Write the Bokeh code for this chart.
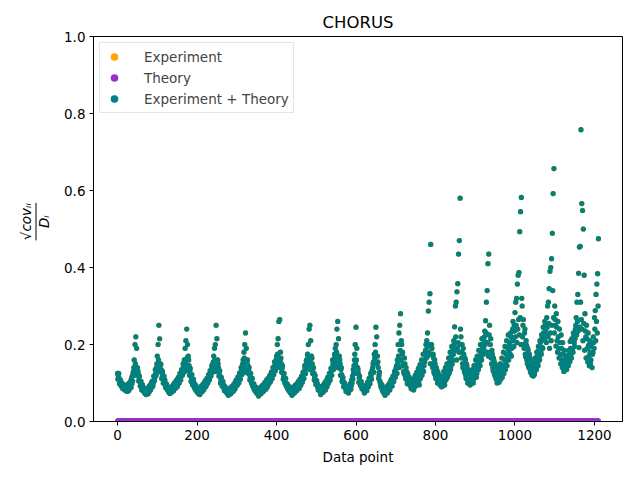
from bokeh.plotting import figure
from bokeh.layouts import row
from bokeh.models import (Range1d, Legend, LegendItem, Label,
                          FixedTicker, PrintfTickFormatter, ColumnDataSource)
from bokeh.embed import file_html
from bokeh.resources import INLINE

# sqrt(cov_ii)/D_i for Experiment + Theory, even data points 0..326
ratio_a = [
    0.125, 0.118, 0.112, 0.100, 0.104, 0.095, 0.090, 0.093, 0.085, 0.082,
    0.088, 0.080, 0.078, 0.083, 0.080, 0.086, 0.092, 0.088, 0.098, 0.105,
    0.130, 0.160, 0.200, 0.220, 0.190,
    0.140, 0.125, 0.115, 0.105, 0.098, 0.092, 0.086, 0.082, 0.078, 0.075,
    0.072, 0.070, 0.073, 0.076, 0.080, 0.078, 0.085, 0.090, 0.088, 0.096,
    0.100, 0.108, 0.115, 0.125, 0.140, 0.170, 0.200, 0.250, 0.215,
    0.150, 0.135, 0.125, 0.118, 0.110, 0.102, 0.095, 0.090, 0.085, 0.082,
    0.078, 0.075, 0.073, 0.076, 0.080, 0.078, 0.083, 0.088, 0.085, 0.092,
    0.095, 0.090, 0.098, 0.102, 0.108, 0.112, 0.118, 0.125, 0.135, 0.145,
    0.160, 0.190, 0.210, 0.240, 0.200, 0.170,
    0.145, 0.130, 0.120, 0.112, 0.105, 0.098, 0.092, 0.088, 0.084, 0.080,
    0.077, 0.075, 0.072, 0.074, 0.078, 0.076, 0.080, 0.084, 0.082, 0.088,
    0.092, 0.090, 0.096, 0.100, 0.105, 0.110, 0.115, 0.122, 0.130, 0.140,
    0.150, 0.170, 0.190, 0.200, 0.250, 0.215, 0.160,
    0.140, 0.128, 0.118, 0.110, 0.102, 0.095, 0.090, 0.086, 0.082, 0.079,
    0.076, 0.073, 0.071, 0.074, 0.077, 0.075, 0.079, 0.083, 0.081, 0.086,
    0.090, 0.088, 0.094, 0.098, 0.102, 0.108, 0.114, 0.120, 0.128, 0.136,
    0.145, 0.160, 0.180, 0.200, 0.230, 0.190, 0.150,
]

# even data points 328..716
ratio_b = [
    0.145, 0.132, 0.122, 0.114, 0.106, 0.099, 0.093, 0.088, 0.084, 0.080,
    0.077, 0.074, 0.072, 0.070, 0.073, 0.076, 0.074, 0.078, 0.082, 0.080,
    0.085, 0.089, 0.087, 0.092, 0.096, 0.094, 0.100, 0.104, 0.108, 0.112,
    0.118, 0.124, 0.130, 0.138, 0.146, 0.155, 0.170, 0.200, 0.215, 0.260,
    0.265, 0.180,
    0.150, 0.138, 0.126, 0.116, 0.108, 0.101, 0.095, 0.090, 0.086, 0.082,
    0.079, 0.076, 0.074, 0.072, 0.075, 0.078, 0.076, 0.080, 0.084, 0.082,
    0.088, 0.092, 0.090, 0.096, 0.100, 0.105, 0.110, 0.116, 0.122, 0.130,
    0.138, 0.148, 0.160, 0.175, 0.200, 0.240, 0.250, 0.210, 0.170,
    0.150, 0.138, 0.126, 0.116, 0.108, 0.100, 0.094, 0.089, 0.085, 0.081,
    0.078, 0.075, 0.078, 0.082, 0.080, 0.085, 0.090, 0.088, 0.094, 0.098,
    0.104, 0.110, 0.116, 0.124, 0.132, 0.140, 0.150, 0.160, 0.175, 0.190,
    0.200, 0.240, 0.260, 0.215, 0.170,
    0.150, 0.135, 0.122, 0.112, 0.104, 0.097, 0.091, 0.086, 0.082, 0.079,
    0.076, 0.079, 0.083, 0.088, 0.093, 0.100, 0.110, 0.125, 0.160, 0.200,
    0.245,
    0.190, 0.140, 0.125, 0.114, 0.105, 0.098, 0.092, 0.087, 0.083, 0.080,
    0.078, 0.082, 0.086, 0.090, 0.095, 0.100, 0.106, 0.113, 0.120, 0.130,
    0.140, 0.155, 0.175, 0.200, 0.245, 0.220,
    0.170, 0.140, 0.120, 0.105, 0.095, 0.088, 0.082, 0.078, 0.075, 0.073,
    0.076, 0.080, 0.078, 0.084, 0.088, 0.086, 0.092, 0.096, 0.100, 0.105,
    0.110, 0.118, 0.126, 0.135, 0.145, 0.160, 0.200, 0.230, 0.250, 0.280,
    0.210, 0.175,
]

# even data points 718..1210
ratio_c = [
    0.150, 0.130, 0.165, 0.118, 0.140, 0.108, 0.125, 0.100, 0.115, 0.094,
    0.108, 0.090, 0.100, 0.095, 0.088, 0.104, 0.092, 0.110, 0.098, 0.118,
    0.105, 0.125, 0.112, 0.135, 0.120, 0.145, 0.130, 0.160, 0.175, 0.200,
    0.210, 0.230, 0.287, 0.310, 0.332, 0.460,
    0.200, 0.150, 0.175, 0.130, 0.160, 0.118, 0.140, 0.110, 0.128, 0.100,
    0.120, 0.095, 0.112, 0.105, 0.092, 0.118, 0.100, 0.125, 0.108, 0.135,
    0.115, 0.145, 0.125, 0.155, 0.135, 0.170, 0.150, 0.190, 0.210, 0.246,
    0.300, 0.310, 0.337, 0.358, 0.435, 0.470,
    0.580, 0.220, 0.180, 0.150, 0.190, 0.135, 0.165, 0.120, 0.150, 0.110,
    0.135, 0.102, 0.125, 0.098, 0.115, 0.105, 0.122, 0.110, 0.130, 0.118,
    0.140, 0.125, 0.150, 0.135, 0.165, 0.145, 0.180, 0.160, 0.195, 0.175,
    0.210, 0.235, 0.262, 0.310, 0.340, 0.410, 0.435, 0.250,
    0.200, 0.165, 0.185, 0.140, 0.165, 0.125, 0.150, 0.115, 0.140, 0.108,
    0.130, 0.102, 0.120, 0.110, 0.135, 0.115, 0.145, 0.125, 0.160, 0.135,
    0.175, 0.145, 0.190, 0.160, 0.205, 0.175, 0.220, 0.190, 0.240, 0.210,
    0.250, 0.283, 0.310, 0.320, 0.357, 0.380, 0.387, 0.493, 0.545, 0.582,
    0.300, 0.250, 0.200, 0.230, 0.175, 0.210, 0.160, 0.190, 0.145, 0.175,
    0.135, 0.160, 0.125, 0.150, 0.118, 0.140, 0.130, 0.155, 0.135, 0.170,
    0.145, 0.185, 0.160, 0.205, 0.175, 0.215, 0.190, 0.230, 0.212, 0.250,
    0.225, 0.270, 0.300, 0.310, 0.345, 0.390, 0.400, 0.423, 0.489,
    0.592, 0.657, 0.300, 0.250, 0.280, 0.210, 0.260, 0.190, 0.240, 0.175,
    0.225, 0.160, 0.205, 0.150, 0.185, 0.140, 0.170, 0.135, 0.160, 0.145,
    0.175, 0.155, 0.190, 0.165, 0.212, 0.180, 0.222, 0.195, 0.240, 0.270,
    0.310, 0.330, 0.385, 0.453, 0.455,
    0.758, 0.566, 0.548, 0.500, 0.380, 0.280, 0.220, 0.250, 0.190, 0.230,
    0.170, 0.210, 0.150, 0.195, 0.140, 0.180, 0.205, 0.270, 0.288, 0.330,
    0.357, 0.384, 0.475,
]

# odd data points 1..325
ratio_a_odd = [
    0.110, 0.125, 0.098, 0.108, 0.092, 0.100, 0.086, 0.096, 0.090, 0.094,
    0.084, 0.090, 0.095, 0.086, 0.100, 0.092, 0.105, 0.112, 0.118, 0.125,
    0.140, 0.120, 0.150, 0.135,
    0.125, 0.132, 0.105, 0.118, 0.092, 0.104, 0.082, 0.095, 0.088, 0.080,
    0.085, 0.078, 0.082, 0.086, 0.072, 0.090, 0.094, 0.082, 0.100, 0.104,
    0.092, 0.118, 0.106, 0.135, 0.120, 0.150, 0.130, 0.160, 0.145,
    0.130, 0.148, 0.112, 0.130, 0.100, 0.118, 0.108, 0.088, 0.098, 0.092,
    0.086, 0.082, 0.088, 0.084, 0.076, 0.090, 0.094, 0.080, 0.100, 0.086,
    0.104, 0.108, 0.094, 0.115, 0.100, 0.125, 0.108, 0.135, 0.120, 0.150,
    0.128, 0.140, 0.155, 0.132, 0.165, 0.145,
    0.160, 0.120, 0.138, 0.104, 0.122, 0.095, 0.110, 0.100, 0.085, 0.094,
    0.088, 0.082, 0.086, 0.080, 0.070, 0.088, 0.092, 0.078, 0.097, 0.084,
    0.102, 0.106, 0.094, 0.112, 0.100, 0.122, 0.108, 0.132, 0.118, 0.145,
    0.128, 0.155, 0.140, 0.160, 0.130, 0.148, 0.138,
    0.150, 0.118, 0.132, 0.100, 0.115, 0.092, 0.104, 0.095, 0.080, 0.090,
    0.084, 0.080, 0.084, 0.068, 0.082, 0.086, 0.072, 0.090, 0.092, 0.078,
    0.098, 0.084, 0.104, 0.108, 0.094, 0.116, 0.100, 0.126, 0.110, 0.140,
    0.122, 0.150, 0.135, 0.165, 0.128, 0.145, 0.138,
]

# odd data points 327..715
ratio_b_odd = [
    0.160, 0.125, 0.140, 0.108, 0.125, 0.100, 0.112, 0.092, 0.098, 0.085,
    0.090, 0.082, 0.086, 0.080, 0.066, 0.084, 0.088, 0.072, 0.092, 0.094,
    0.078, 0.098, 0.102, 0.084, 0.108, 0.090, 0.112, 0.098, 0.120, 0.104,
    0.128, 0.112, 0.140, 0.122, 0.155, 0.132, 0.160, 0.145, 0.175, 0.150,
    0.140, 0.160,
    0.165, 0.128, 0.145, 0.110, 0.125, 0.100, 0.112, 0.092, 0.098, 0.088,
    0.092, 0.085, 0.088, 0.080, 0.068, 0.086, 0.090, 0.074, 0.094, 0.096,
    0.080, 0.100, 0.104, 0.086, 0.110, 0.094, 0.118, 0.102, 0.128, 0.112,
    0.145, 0.125, 0.158, 0.138, 0.170, 0.150, 0.135, 0.160, 0.145,
    0.165, 0.125, 0.140, 0.108, 0.120, 0.096, 0.106, 0.098, 0.082, 0.092,
    0.086, 0.070, 0.088, 0.092, 0.076, 0.096, 0.100, 0.082, 0.106, 0.090,
    0.115, 0.100, 0.125, 0.108, 0.138, 0.120, 0.160, 0.135, 0.145, 0.170,
    0.155, 0.180, 0.140, 0.165, 0.150,
    0.160, 0.120, 0.140, 0.104, 0.115, 0.090, 0.100, 0.094, 0.078, 0.088,
    0.090, 0.074, 0.092, 0.098, 0.084, 0.108, 0.118, 0.135, 0.145, 0.175,
    0.150,
    0.160, 0.125, 0.135, 0.102, 0.118, 0.094, 0.104, 0.085, 0.094, 0.088,
    0.074, 0.090, 0.094, 0.080, 0.102, 0.090, 0.112, 0.098, 0.125, 0.110,
    0.135, 0.150, 0.128, 0.165, 0.180, 0.150,
    0.150, 0.155, 0.112, 0.128, 0.100, 0.090, 0.096, 0.084, 0.088, 0.082,
    0.068, 0.086, 0.090, 0.074, 0.094, 0.098, 0.082, 0.104, 0.110, 0.092,
    0.118, 0.104, 0.130, 0.115, 0.140, 0.125, 0.150, 0.170, 0.140, 0.185,
    0.160, 0.200,
]

# odd data points 717..1209
ratio_c_odd = [
    0.180, 0.145, 0.125, 0.150, 0.112, 0.130, 0.098, 0.118, 0.105, 0.100,
    0.092, 0.085, 0.096, 0.110, 0.082, 0.098, 0.120, 0.104, 0.128, 0.112,
    0.138, 0.095, 0.148, 0.118, 0.160, 0.135, 0.175, 0.145, 0.155, 0.185,
    0.165, 0.195, 0.170, 0.180, 0.200, 0.150,
    0.175, 0.190, 0.140, 0.165, 0.125, 0.150, 0.112, 0.135, 0.100, 0.122,
    0.108, 0.098, 0.115, 0.090, 0.110, 0.102, 0.130, 0.095, 0.140, 0.112,
    0.150, 0.120, 0.165, 0.130, 0.180, 0.145, 0.195, 0.160, 0.175, 0.200,
    0.185, 0.220, 0.160, 0.190, 0.205, 0.180,
    0.200, 0.240, 0.165, 0.200, 0.140, 0.175, 0.128, 0.160, 0.112, 0.145,
    0.100, 0.130, 0.108, 0.095, 0.120, 0.112, 0.135, 0.100, 0.145, 0.128,
    0.160, 0.115, 0.170, 0.140, 0.185, 0.155, 0.200, 0.170, 0.215, 0.185,
    0.190, 0.220, 0.200, 0.230, 0.180, 0.205, 0.170, 0.225,
    0.180, 0.215, 0.150, 0.175, 0.132, 0.158, 0.120, 0.145, 0.110, 0.100,
    0.125, 0.140, 0.108, 0.150, 0.122, 0.165, 0.130, 0.180, 0.142, 0.195,
    0.155, 0.210, 0.170, 0.225, 0.185, 0.200, 0.230, 0.170, 0.215, 0.260,
    0.195, 0.235, 0.220, 0.250, 0.205, 0.240, 0.265, 0.225, 0.270, 0.200,
    0.320, 0.220, 0.265, 0.190, 0.240, 0.168, 0.198, 0.150, 0.185, 0.140,
    0.168, 0.128, 0.140, 0.120, 0.132, 0.145, 0.122, 0.165, 0.140, 0.180,
    0.152, 0.195, 0.168, 0.210, 0.182, 0.225, 0.192, 0.245, 0.215, 0.260,
    0.235, 0.205, 0.245, 0.220, 0.255, 0.190, 0.230, 0.210, 0.250,
    0.340, 0.270, 0.230, 0.265, 0.196, 0.245, 0.180, 0.220, 0.165, 0.205,
    0.150, 0.190, 0.140, 0.175, 0.130, 0.160, 0.150, 0.145, 0.170, 0.155,
    0.185, 0.162, 0.208, 0.175, 0.215, 0.190, 0.230, 0.205, 0.215, 0.250,
    0.225, 0.260, 0.235, 0.192, 0.245,
    0.310, 0.265, 0.240, 0.210, 0.255, 0.185, 0.235, 0.165, 0.215, 0.155,
    0.198, 0.145, 0.180, 0.160, 0.205, 0.175, 0.220, 0.190, 0.240, 0.210,
    0.260, 0.230, 0.300,
]

even_vals = ratio_a + ratio_b + ratio_c
odd_vals = ratio_a_odd + ratio_b_odd + ratio_c_odd
even_pts = [2 * i for i in range(len(even_vals))]
odd_pts = [2 * i + 1 for i in range(len(odd_vals))]

data_point = even_pts + odd_pts
exp_plus_theory = even_vals + odd_vals
# Experiment-only uncertainties sit right under the combined ones
experiment = list(exp_plus_theory)
# Theory uncertainties are tiny, all read as ~0.002
theory = [0.002] * len(data_point)

x_ticks = [0, 200, 400, 600, 800, 1000, 1200]
y_ticks = [0.0, 0.2, 0.4, 0.6, 0.8, 1.0]
y_label_num = "√covᵢᵢ"
y_label_den = "Dᵢ"

FONT = "DejaVu Sans"
H = 472
LW = 56  # width of the strip that holds the y-axis label

# ---- strip holding the y-axis label (a fraction) ----
lf = figure(width=LW, height=H, output_backend="svg", toolbar_location=None,
            x_range=Range1d(0, LW), y_range=Range1d(0, H),
            x_axis_location=None, y_axis_location=None, min_border=0)
lf.grid.visible = False
lf.outline_line_color = None
lf.border_fill_color = "white"
lf.background_fill_color = "white"
lf.add_layout(Label(x=25, y=H - 227, text=y_label_num, angle=90, angle_units="deg",
                    text_align="center", text_baseline="middle", text_font=FONT,
                    text_font_style="italic", text_font_size="13.5px",
                    text_color="black"))
lf.add_layout(Label(x=43.5, y=H - 227, text=y_label_den, angle=90, angle_units="deg",
                    text_align="center", text_baseline="middle", text_font=FONT,
                    text_font_style="italic", text_font_size="13.5px",
                    text_color="black"))
lf.segment(x0=[35.5], y0=[H - 250], x1=[35.5], y1=[H - 204],
           line_color="black", line_width=1)

# ---- main chart ----
p = figure(width=632 - LW, height=H, output_backend="svg", toolbar_location=None,
           x_range=Range1d(-60.5, 1270.5), y_range=Range1d(0, 1),
           min_border_left=93 - LW, min_border_right=10, min_border_top=36,
           min_border_bottom=51)

p.title.text = "CHORUS"
p.title.align = "center"
p.title.text_font = FONT
p.title.text_font_size = "16.5px"
p.title.text_font_style = "normal"
p.title.text_color = "black"

p.grid.visible = False
p.outline_line_color = "black"
p.outline_line_width = 1
p.background_fill_color = "white"
p.border_fill_color = "white"

for ax in (p.xaxis[0], p.yaxis[0]):
    ax.major_tick_out = 4
    ax.major_tick_in = 0
    ax.minor_tick_line_color = None
    ax.axis_line_color = "black"
    ax.major_tick_line_color = "black"
    ax.major_label_text_font = FONT
    ax.major_label_text_font_size = "13.5px"
    ax.major_label_text_color = "black"
    ax.major_label_standoff = 4

p.xaxis.ticker = FixedTicker(ticks=x_ticks)
p.yaxis.ticker = FixedTicker(ticks=y_ticks)
p.yaxis.formatter = PrintfTickFormatter(format="%.1f")
p.xaxis.axis_label = "Data point"
p.xaxis.axis_label_text_font = FONT
p.xaxis.axis_label_text_font_size = "13.5px"
p.xaxis.axis_label_text_font_style = "normal"
p.xaxis.axis_label_text_color = "black"
p.xaxis.axis_label_standoff = 6

src_e = ColumnDataSource(dict(x=data_point, y=experiment))
src_t = ColumnDataSource(dict(x=data_point, y=theory))
src_et = ColumnDataSource(dict(x=data_point, y=exp_plus_theory))

r_e = p.scatter("x", "y", source=src_e, size=5.3, fill_color="orange", line_color=None)
r_t = p.scatter("x", "y", source=src_t, size=5, fill_color="darkorchid", line_color=None)
r_et = p.scatter("x", "y", source=src_et, size=5.2, fill_color="teal", line_color=None)

legend = Legend(items=[LegendItem(label="Experiment", renderers=[r_e]),
                       LegendItem(label="Theory", renderers=[r_t]),
                       LegendItem(label="Experiment + Theory", renderers=[r_et])],
                location="top_left", margin=6, padding=4, spacing=2,
                label_height=19, glyph_height=19, glyph_width=20,
                label_standoff=20,
                label_text_font=FONT, label_text_font_size="13.5px",
                border_line_color="#cccccc", border_line_width=1,
                background_fill_alpha=0.8)
p.add_layout(legend)

layout = row(lf, p, spacing=0)
open("out.html", "w").write(file_html(layout, INLINE))
